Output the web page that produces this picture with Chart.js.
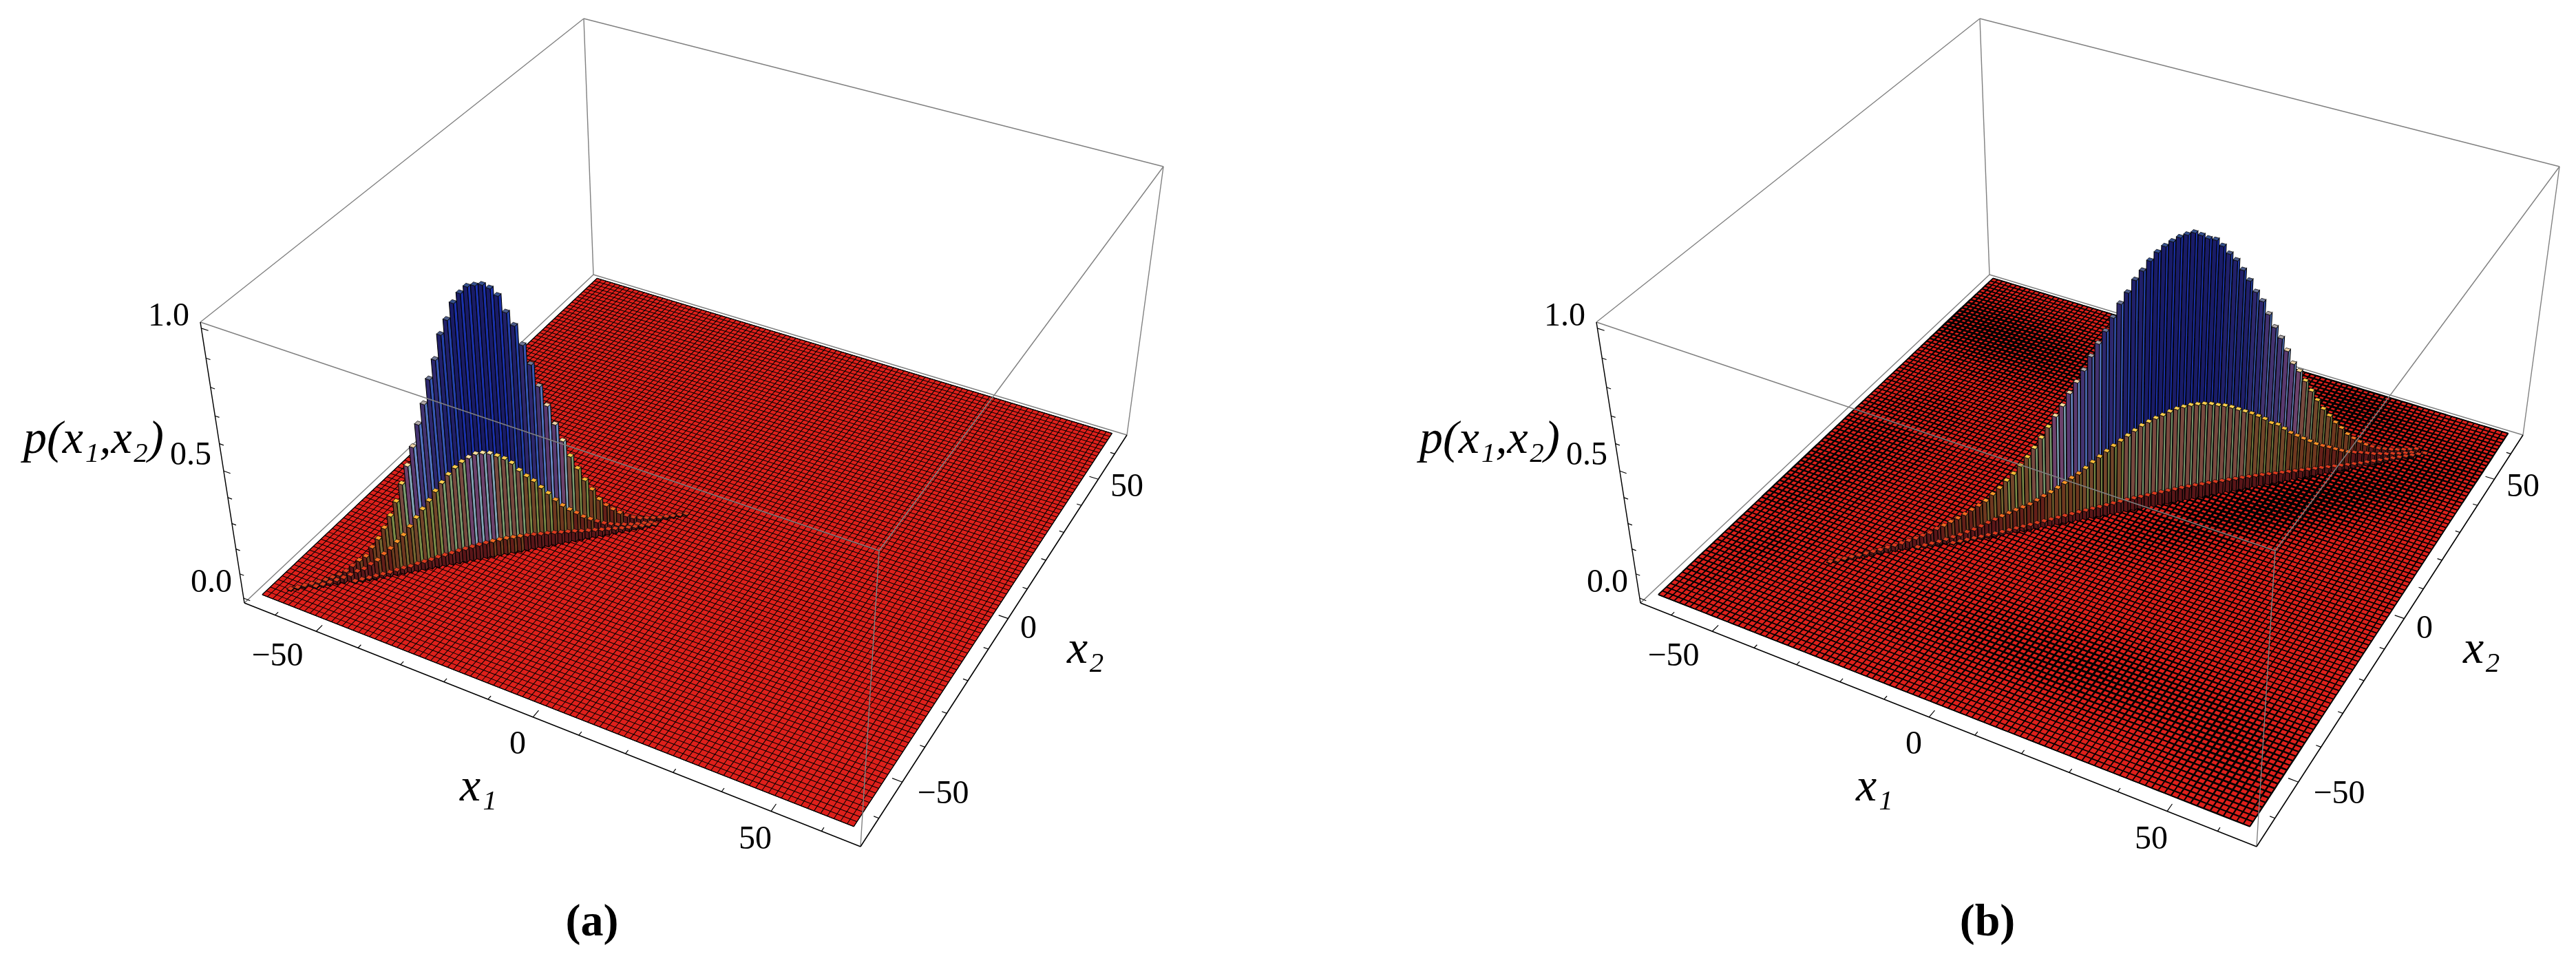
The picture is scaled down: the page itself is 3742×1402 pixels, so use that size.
<!DOCTYPE html>
<html>
<head>
<meta charset="utf-8">
<title>p(x1,x2)</title>
<script src="https://cdn.jsdelivr.net/npm/chart.js@4/dist/chart.umd.min.js"></script>
<style>
  html, body { margin: 0; padding: 0; background: #fff; }
  canvas { position: absolute; top: 0; }
  #panelA { left: 0; }
  #panelB { left: 1871px; }
</style>
</head>
<body>
<canvas id="panelA" width="1871" height="1402"></canvas>
<canvas id="panelB" width="1871" height="1402"></canvas>
<script>
// tick values
const x1Ticks = [-60, -50, -40, -30, -20, -10, 0, 10, 20, 30, 40, 50, 60];
const x2Ticks = [-60, -50, -40, -30, -20, -10, 0, 10, 20, 30, 40, 50, 60];
const zTicks = [0, 0.1, 0.2, 0.3, 0.4, 0.5, 0.6, 0.7, 0.8, 0.9, 1];
const majorX = [-50, 0, 50];
const majorZ = [0, 0.5, 1];

// heights of the columns along the ridge x1 = x2
const tallA = [.003,.004,.006,.008,.01,.013,.018,.024,.033,.05,.067,.078,.11,.14,.178,.222,.273,.338,.403,.47,.55,.62,.705,.77,.853,.9,.953,.982,1,1,.998,.982,.953,.892,.842,.77,.696,.612,.535,.46,.392,.327,.273,.222,.178,.133,.103,.081,.061,.044,.031,.022,.017,.012,.009,.007,.005,.004,.003];
const midA = [.004,.006,.009,.013,.018,.024,.033,.038,.052,.063,.083,.1,.122,.144,.173,.204,.233,.262,.294,.322,.349,.371,.388,.4,.409,.407,.401,.387,.371,.349,.316,.288,.264,.233,.204,.172,.144,.122,.103,.082,.067,.052,.039,.03,.022,.017,.012,.009,.007,.004];
const lowA = [.004,.006,.007,.009,.011,.013,.017,.02,.022,.027,.03,.033,.038,.041,.044,.048,.051,.054,.057,.059,.061,.062,.062,.061,.06,.058,.056,.053,.051,.048,.044,.041,.038,.033,.03,.027,.023,.02,.017,.013,.011,.009,.007,.006,.004];
const tallB = [.003,.003,.004,.006,.007,.009,.011,.013,.017,.02,.024,.029,.033,.039,.044,.056,.064,.074,.083,.094,.107,.119,.133,.155,.175,.2,.222,.25,.278,.31,.345,.382,.42,.455,.498,.535,.575,.622,.665,.705,.75,.795,.83,.87,.898,.928,.953,.97,.982,.992,.997,1,.987,.972,.963,.938,.907,.88,.842,.8,.755,.717,.665,.612,.567,.514,.46,.425,.382,.338,.295,.255,.222,.189,.161,.13,.107,.087,.07,.056,.044,.036,.028,.022,.017,.013,.01];
const midB = [.004,.006,.008,.01,.013,.018,.022,.028,.033,.041,.05,.058,.067,.074,.081,.087,.094,.105,.117,.128,.141,.155,.17,.183,.2,.219,.236,.253,.269,.285,.3,.315,.33,.34,.349,.356,.365,.371,.374,.376,.374,.371,.365,.356,.349,.338,.325,.311,.298,.283,.266,.244,.233,.211,.189,.172,.155,.139,.122,.109,.098,.085,.073,.062,.055,.049,.041,.033,.028,.022,.018,.013,.01,.007];
const lowB = [.003,.004,.005,.006,.007,.008,.009,.01,.012,.014,.016,.018,.02,.022,.024,.026,.028,.03,.032,.034,.036,.038,.04,.042,.044,.046,.047,.048,.049,.05,.051,.052,.052,.053,.053,.053,.052,.052,.051,.05,.049,.048,.047,.046,.045,.043,.041,.039,.037,.035,.033,.031,.029,.027,.025,.023,.021,.019,.017,.015,.013,.012,.011,.01,.009,.008,.007,.006,.005,.004,.003];

// view: box corners on screen, left / front / right / back
const boxFloor = [[355, 876], [1250, 1230], [1637, 632], [862, 399]];
const boxTop = [[291, 468], [1277, 800], [1690, 242], [848, 27]];
const boxHalf = 67.6;
const plateHalf = 65;
const meshCells = 100;
const panelShift = { a: 0, b: 157 };
const serif = '"Liberation Serif", "DejaVu Serif", serif';

// column colours by height: from height, long face, short face, cap
const barTiers = [
  [.92, '#191c68', '#1a30aa', '#35508f'],
  [.8, '#20206a', '#2340aa', '#4a5a8a'],
  [.68, '#2d286e', '#3656b4', '#6f7898'],
  [.55, '#433370', '#5072be', '#b0a8a8'],
  [.46, '#5a3a70', '#6c8cc8', '#eed2a8'],
  [.39, '#6c426c', '#80a2b4', '#ffe0a0'],
  [.3, '#784a40', '#7a9a6e', '#ffd050'],
  [.2, '#72462a', '#7a8a46', '#ffbc35'],
  [.12, '#6e381f', '#766630', '#ff9628'],
  [.06, '#641f18', '#6e3e1f', '#f26820'],
  [0, '#5a1518', '#662020', '#dc3a1e']
];

// places where the mesh of (b) looks darker: cx, cy, rx, ry, angle, strength
const darkPatches = [
  [880, 490, 170, 45, .37, .9],
  [1395, 596, 100, 40, .3, 1],
  [1300, 730, 250, 42, -.19, 1.3],
  [1000, 975, 230, 55, .3, .9],
  [1210, 1110, 100, 80, .4, .8],
  [630, 670, 170, 55, -.4, .5],
  [520, 800, 120, 35, -.4, .3]
];

function quadMap(q) {
  const [p0, p1, p2, p3] = q;
  const sx = p0[0] - p1[0] + p2[0] - p3[0], sy = p0[1] - p1[1] + p2[1] - p3[1];
  const dx1 = p1[0] - p2[0], dx2 = p3[0] - p2[0], dy1 = p1[1] - p2[1], dy2 = p3[1] - p2[1];
  const den = dx1 * dy2 - dx2 * dy1;
  const g = (sx * dy2 - dx2 * sy) / den, h = (dx1 * sy - sx * dy1) / den;
  const a = p1[0] - p0[0] + g * p1[0], b = p3[0] - p0[0] + h * p3[0];
  const d = p1[1] - p0[1] + g * p1[1], e = p3[1] - p0[1] + h * p3[1];
  return (u, v) => {
    const w = g * u + h * v + 1;
    return [(a * u + b * v + p0[0]) / w, (d * u + e * v + p0[1]) / w];
  };
}
const floorMap = quadMap(boxFloor);
const topMap = quadMap(boxTop);

function liftOf(z) {
  const s = (z + 0.02) / 1.04;
  return s * 0.887 / (1 - s + s * 0.887);
}

function project(x1, x2, z, shift) {
  const u = (x1 + boxHalf) / (2 * boxHalf), v = (x2 + boxHalf) / (2 * boxHalf);
  const f = floorMap(u, v), t = topMap(u, v), k = liftOf(z);
  return { x: f[0] + (t[0] - f[0]) * k + shift, y: f[1] + (t[1] - f[1]) * k };
}
function boxPoint(cu, cv, top, shift) {
  const p = top ? boxTop : boxFloor;
  const i = cu ? (cv ? 2 : 1) : (cv ? 3 : 0);
  return { x: p[i][0] + shift, y: p[i][1] };
}

function shape(points, fillColor, stroke, width) {
  return {
    data: points, showLine: true, fill: 'shape', backgroundColor: fillColor,
    borderColor: stroke, borderWidth: width, pointRadius: 0, tension: 0
  };
}
function line(points, stroke, width) {
  return { data: points, showLine: true, fill: false, borderColor: stroke, borderWidth: width, pointRadius: 0, tension: 0 };
}

function meshWidth(x, y, shift) {
  let dark = 0;
  for (const [cx, cy, rx, ry, ang, s] of darkPatches) {
    const dx = x - shift - cx, dy = y - cy;
    const a = (dx * Math.cos(ang) + dy * Math.sin(ang)) / rx;
    const b = (-dx * Math.sin(ang) + dy * Math.cos(ang)) / ry;
    dark += s * Math.exp(-(a * a + b * b));
  }
  return Math.round((1.7 + 1.4 * dark) * 4) / 4;
}

function barDatasets(values, start, step, offset, shift) {
  const out = [];
  values.forEach((z, i) => {
    const g = start + i * step, h = 0.5, x1 = g + offset;
    const tier = barTiers.find(t => z >= t[0]);
    const p = (a, b, c) => project(x1 + a, g + b, c, shift);
    const longFace = [p(-h, -h, 0), p(-h, -h, z), p(h, -h, z), p(h, -h, 0), p(-h, -h, 0)];
    const shortFace = [p(h, -h, 0), p(h, -h, z), p(h, h, z), p(h, h, 0), p(h, -h, 0)];
    const cap = [p(-h, -h, z), p(h, -h, z), p(h, h, z), p(-h, h, z), p(-h, -h, z)];
    out.push(shape(longFace, tier[1], '#000', 1.1));
    out.push(shape(shortFace, tier[2], '#000', 1.1));
    out.push(shape(cap, tier[3], '#111', 0.8));
  });
  return out;
}

function buildPanel(rows, shift, thickMesh) {
  const ds = [];
  const grey = '#808080';
  // back edges of the box
  ds.push(line([boxPoint(0, 1, 0, shift), boxPoint(0, 0, 0, shift)], grey, 1.5));
  ds.push(line([boxPoint(0, 1, 0, shift), boxPoint(1, 1, 0, shift)], grey, 1.5));
  ds.push(line([boxPoint(0, 1, 0, shift), boxPoint(0, 1, 1, shift)], grey, 1.4));
  ds.push(line([boxPoint(0, 1, 1, shift), boxPoint(0, 0, 1, shift)], grey, 1.4));
  ds.push(line([boxPoint(0, 1, 1, shift), boxPoint(1, 1, 1, shift)], grey, 1.4));
  ds.push(line([boxPoint(1, 1, 0, shift), boxPoint(1, 1, 1, shift)], grey, 1.4));

  // the flat part of the surface
  const corners = [[-1, -1], [1, -1], [1, 1], [-1, 1], [-1, -1]].map(c => project(c[0] * plateHalf, c[1] * plateHalf, 0, shift));
  ds.push(shape(corners, '#de201b', '#000', 1.1));
  const cell = 2 * plateHalf / meshCells;
  for (let i = 0; i <= meshCells; i++) {
    const a = -plateHalf + i * cell;
    const along = [], across = [];
    const pieces = thickMesh ? meshCells : 1;
    for (let j = 0; j <= pieces; j++) {
      const b = -plateHalf + j * 2 * plateHalf / pieces;
      along.push(project(a, b, 0, shift));
      across.push(project(b, a, 0, shift));
    }
    [along, across].forEach(pts => {
      const d = line(pts, '#000', thickMesh ? 1.7 : 1.05);
      if (thickMesh) {
        d.segment = { borderWidth: c => meshWidth(c.p0.parsed.x, c.p0.parsed.y, shift) };
      }
      ds.push(d);
    });
  }

  // ridge columns
  rows.forEach(r => barDatasets(r.values, r.start, r.step, r.offset, shift).forEach(d => ds.push(d)));

  // front edges of the box
  ds.push(line([boxPoint(0, 0, 1, shift), boxPoint(1, 0, 1, shift)], grey, 1.4));
  ds.push(line([boxPoint(1, 1, 1, shift), boxPoint(1, 0, 1, shift)], grey, 1.4));
  ds.push(line([boxPoint(1, 0, 0, shift), boxPoint(1, 0, 1, shift)], grey, 1.4));

  // axes with ticks
  ds.push(line([boxPoint(0, 0, 0, shift), boxPoint(0, 0, 1, shift)], '#000', 1.5));
  ds.push(line([boxPoint(0, 0, 0, shift), boxPoint(1, 0, 0, shift)], '#000', 1.6));
  ds.push(line([boxPoint(1, 0, 0, shift), boxPoint(1, 1, 0, shift)], '#000', 1.6));
  const zBase = -0.02;
  x1Ticks.forEach(t => {
    const len = majorX.includes(t) ? 2 : 1;
    ds.push(line([project(t, -boxHalf, zBase, shift), project(t, -boxHalf + len, zBase, shift)], '#000', 1.2));
  });
  x2Ticks.forEach(t => {
    const len = majorX.includes(t) ? 2 : 1;
    ds.push(line([project(boxHalf, t, zBase, shift), project(boxHalf - len, t, zBase, shift)], '#000', 1.2));
  });
  zTicks.forEach(t => {
    const len = majorZ.includes(t) ? 1.6 : 1;
    ds.push(line([project(-boxHalf, -boxHalf, t, shift), project(-boxHalf + len, -boxHalf, t, shift)], '#000', 1.2));
  });
  return ds.reverse();
}

function textPlugin(letter, shift) {
  const items = [
    ['1.0', 275, 460, 'right', '48px ' + serif],
    ['0.5', 307, 662, 'right', '48px ' + serif],
    ['0.0', 337, 847, 'right', '48px ' + serif],
    ['\u221250', 403, 954, 'center', '48px ' + serif],
    ['0', 752, 1082, 'center', '48px ' + serif],
    ['50', 1097, 1220, 'center', '48px ' + serif],
    ['\u221250', 1370, 1154, 'center', '48px ' + serif],
    ['0', 1494, 914, 'center', '48px ' + serif],
    ['50', 1637, 708, 'center', '48px ' + serif],
    ['x\u2081', 695, 1145, 'center', 'italic 68px ' + serif],
    ['x\u2082', 1577, 945, 'center', 'italic 68px ' + serif],
    ['p(x\u2081,x\u2082)', 136, 640, 'center', 'italic 68px ' + serif],
    ['(' + letter + ')', 860 + (letter === 'b' ? -1 : 0), 1342, 'center', 'bold 66px ' + serif]
  ];
  return {
    id: 'panelText',
    afterDraw(chart) {
      const { ctx, scales } = chart;
      ctx.save();
      ctx.fillStyle = '#000';
      ctx.textBaseline = 'middle';
      items.forEach(([s, x, y, align, font]) => {
        ctx.font = font;
        ctx.textAlign = align;
        ctx.fillText(s, scales.x.getPixelForValue(x + shift), scales.y.getPixelForValue(y));
      });
      ctx.restore();
    }
  };
}

function makeChart(id, datasets, letter, shift) {
  return new Chart(document.getElementById(id), {
    type: 'scatter',
    data: { datasets },
    options: {
      responsive: false,
      animation: false,
      events: [],
      devicePixelRatio: 1,
      parsing: false,
      layout: { padding: 0 },
      plugins: { legend: { display: false }, tooltip: { enabled: false } },
      scales: {
        x: { type: 'linear', min: 0, max: 1871, display: false },
        y: { type: 'linear', min: 0, max: 1402, reverse: true, display: false }
      }
    },
    plugins: [textPlugin(letter, shift)]
  });
}

makeChart('panelA', buildPanel([
  { values: tallA, start: -61, step: 1, offset: 0 },
  { values: midA, start: -58, step: 1, offset: 1 },
  { values: lowA, start: -53, step: 1, offset: 2 }
], panelShift.a, false), 'a', panelShift.a);

makeChart('panelB', buildPanel([
  { values: tallB, start: -40.5, step: 1.05, offset: 0 },
  { values: midB, start: -28.3, step: 1.05, offset: 1 },
  { values: lowB, start: -23.7, step: 1.05, offset: 2 }
], panelShift.b, true), 'b', panelShift.b);
</script>
</body>
</html>
